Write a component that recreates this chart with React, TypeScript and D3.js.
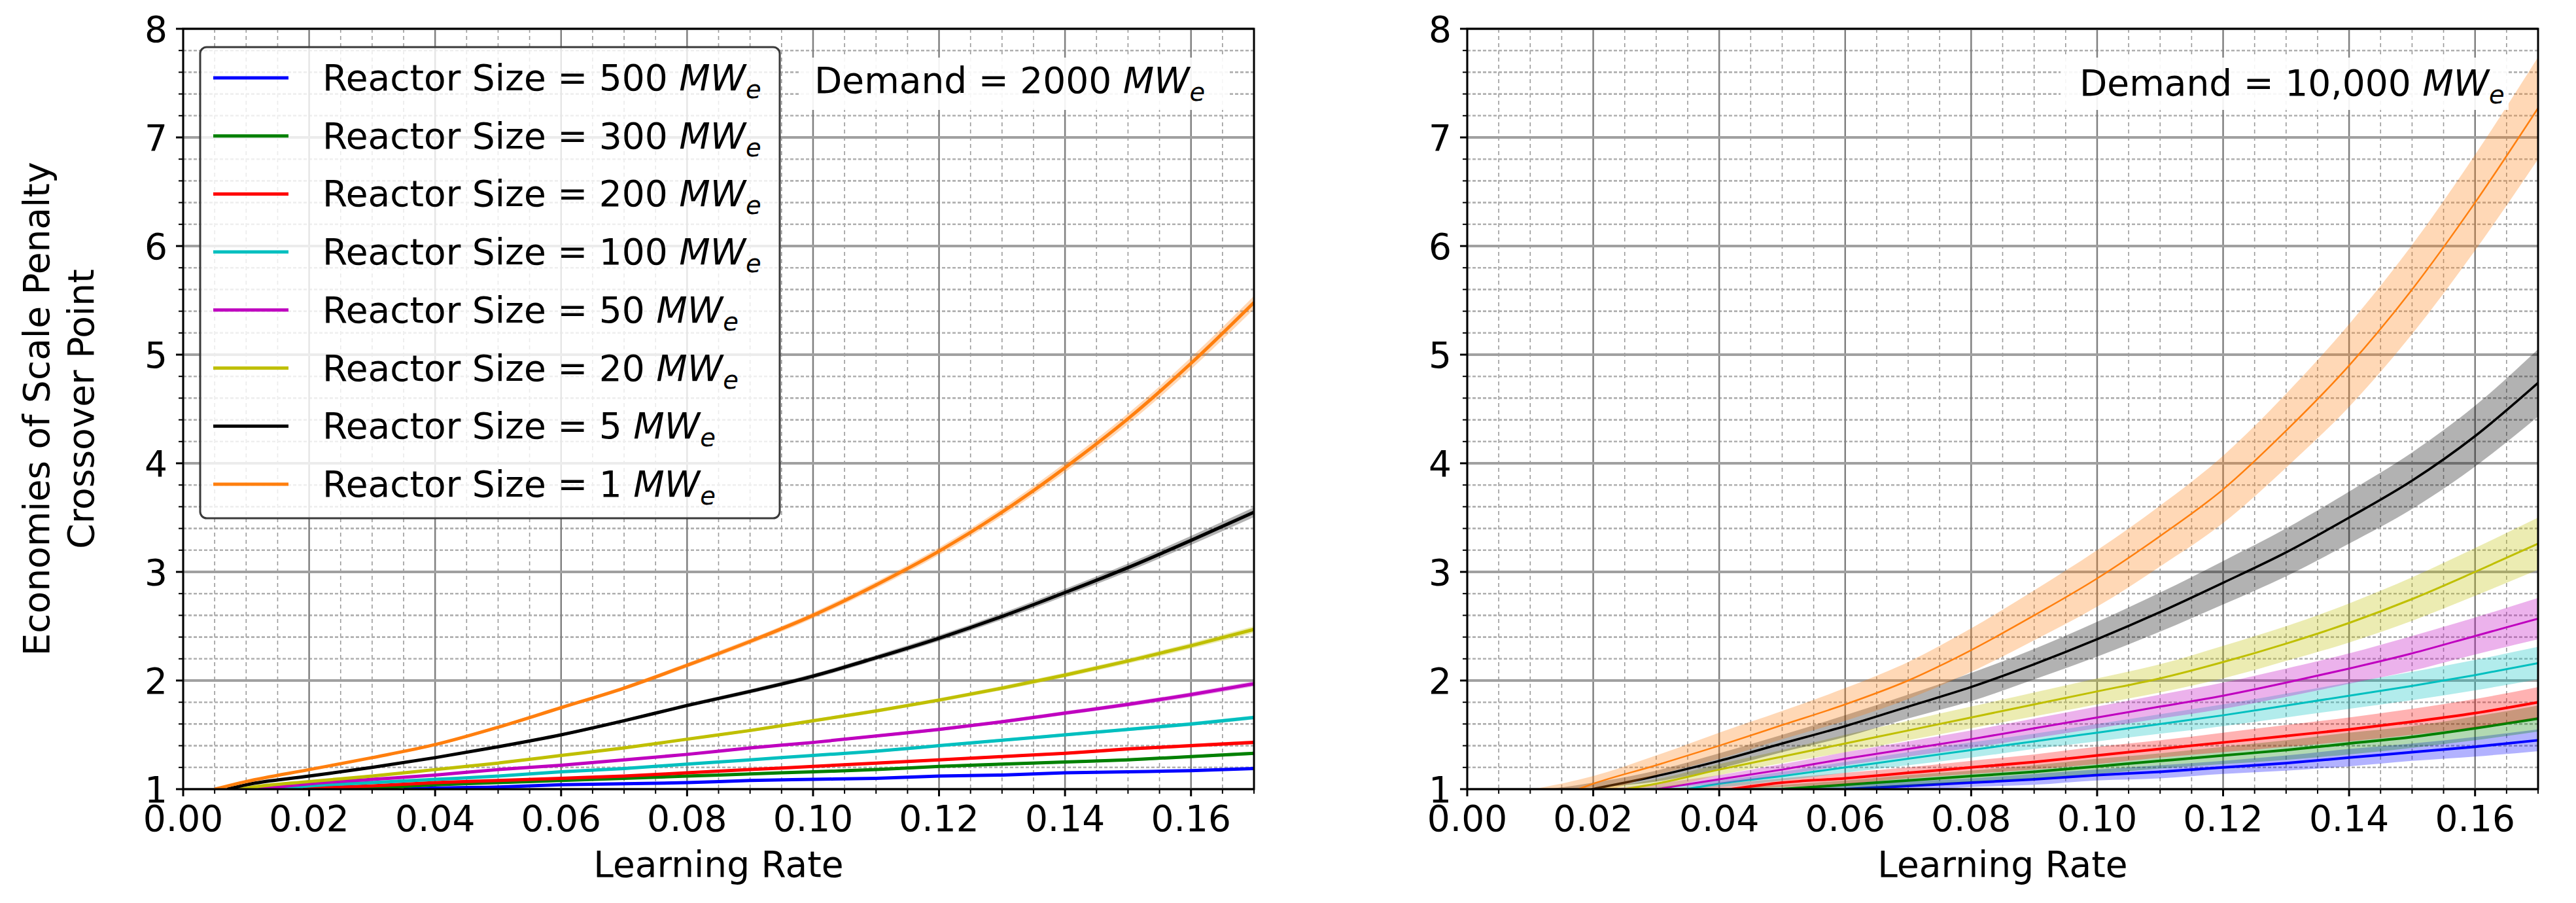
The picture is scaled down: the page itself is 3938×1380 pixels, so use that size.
import * as d3 from "d3";

// learning-rate grid shared by every series (0.01 ... 0.17)
const LR = [0.01, 0.02, 0.03, 0.04, 0.05, 0.06, 0.07, 0.08, 0.09, 0.1, 0.11, 0.12, 0.13, 0.14, 0.15, 0.16, 0.17];

const REACTOR_SIZES = ["500", "300", "200", "100", "50", "20", "5", "1"];
const COLORS = ["#0000ff", "#008000", "#ff0000", "#00bfbf", "#bf00bf", "#bfbf00", "#000000", "#ff7f0e"];

// ---- Demand = 2000 MWe (left) ----
const startL = [0.035, 0.025, 0.019, 0.015, 0.012, 0.009, 0.007, 0.005];
const blueL = [null, null, null, 1.01, 1.02, 1.04, 1.05, 1.06, 1.08, 1.09, 1.1, 1.12, 1.13, 1.15, 1.16, 1.17, 1.19];
const greenL = [null, null, 1.01, 1.04, 1.06, 1.08, 1.1, 1.12, 1.14, 1.16, 1.18, 1.21, 1.23, 1.25, 1.27, 1.3, 1.33];
const redL = [null, 1.005, 1.03, 1.06, 1.08, 1.1, 1.12, 1.15, 1.18, 1.21, 1.24, 1.27, 1.3, 1.33, 1.37, 1.4, 1.43];
const cyanL = [null, 1.03, 1.06, 1.09, 1.12, 1.16, 1.19, 1.23, 1.27, 1.31, 1.35, 1.4, 1.45, 1.5, 1.55, 1.6, 1.66];
const magentaL = [null, 1.05, 1.09, 1.13, 1.18, 1.22, 1.27, 1.32, 1.38, 1.43, 1.49, 1.55, 1.62, 1.7, 1.78, 1.87, 1.97];
const yellowL = [1.01, 1.07, 1.12, 1.18, 1.24, 1.31, 1.38, 1.46, 1.54, 1.63, 1.72, 1.82, 1.93, 2.05, 2.18, 2.32, 2.47];
const blackL = [1.04, 1.12, 1.2, 1.29, 1.39, 1.5, 1.63, 1.77, 1.9, 2.04, 2.21, 2.39, 2.59, 2.81, 3.04, 3.29, 3.55];
const orangeL = [1.07, 1.18, 1.29, 1.41, 1.57, 1.75, 1.93, 2.14, 2.36, 2.6, 2.88, 3.19, 3.55, 3.96, 4.41, 4.92, 5.48];

// half-width of the shaded band
const blueSpreadL = [0, 0, 0, 0.003, 0.004, 0.004, 0.005, 0.005, 0.006, 0.006, 0.007, 0.008, 0.008, 0.009, 0.01, 0.01, 0.011];
const greenSpreadL = [0, 0, 0.003, 0.004, 0.005, 0.006, 0.007, 0.007, 0.008, 0.009, 0.01, 0.011, 0.012, 0.012, 0.013, 0.014, 0.015];
const redSpreadL = [0, 0.003, 0.004, 0.005, 0.006, 0.007, 0.008, 0.008, 0.009, 0.01, 0.011, 0.012, 0.013, 0.014, 0.015, 0.016, 0.017];
const cyanSpreadL = [0, 0.003, 0.004, 0.005, 0.006, 0.007, 0.008, 0.009, 0.01, 0.011, 0.012, 0.013, 0.014, 0.015, 0.016, 0.017, 0.018];
const magentaSpreadL = [0, 0.004, 0.005, 0.006, 0.007, 0.008, 0.009, 0.01, 0.011, 0.012, 0.013, 0.015, 0.016, 0.018, 0.02, 0.022, 0.024];
const yellowSpreadL = [0.003, 0.005, 0.006, 0.007, 0.008, 0.009, 0.01, 0.012, 0.013, 0.015, 0.016, 0.018, 0.02, 0.022, 0.024, 0.027, 0.03];
const blackSpreadL = [0.004, 0.006, 0.008, 0.01, 0.011, 0.013, 0.015, 0.017, 0.019, 0.021, 0.024, 0.027, 0.03, 0.033, 0.037, 0.041, 0.045];
const orangeSpreadL = [0.005, 0.008, 0.01, 0.012, 0.014, 0.016, 0.018, 0.021, 0.024, 0.027, 0.03, 0.034, 0.038, 0.043, 0.048, 0.054, 0.06];

// ---- Demand = 10,000 MWe (right) ----
const startR = [0.06, 0.05, 0.042, 0.0347, 0.03, 0.025, 0.0198, 0.0176];
const bandStartR = [0.046, 0.038, 0.031, 0.026, 0.022, 0.018, 0.013, 0.0105];
const blueR = [null, null, null, null, null, null, 1.03, 1.06, 1.09, 1.13, 1.16, 1.2, 1.24, 1.29, 1.34, 1.39, 1.45];
const greenR = [null, null, null, null, null, 1.04, 1.08, 1.12, 1.16, 1.21, 1.26, 1.31, 1.36, 1.42, 1.48, 1.56, 1.65];
const redR = [null, null, null, null, 1.06, 1.1, 1.15, 1.2, 1.25, 1.31, 1.37, 1.43, 1.49, 1.55, 1.62, 1.7, 1.8];
const cyanR = [null, null, null, 1.05, 1.12, 1.2, 1.28, 1.36, 1.44, 1.52, 1.6, 1.68, 1.77, 1.86, 1.95, 2.05, 2.16];
const magentaR = [null, null, null, 1.09, 1.18, 1.28, 1.37, 1.46, 1.56, 1.66, 1.76, 1.86, 1.98, 2.11, 2.25, 2.41, 2.57];
const yellowR = [null, null, 1.05, 1.18, 1.3, 1.42, 1.54, 1.66, 1.78, 1.9, 2.02, 2.17, 2.34, 2.53, 2.75, 3.0, 3.26];
const blackR = [null, null, 1.12, 1.26, 1.42, 1.58, 1.76, 1.94, 2.15, 2.38, 2.63, 2.9, 3.18, 3.5, 3.84, 4.25, 4.74];
const orangeR = [null, 1.05, 1.22, 1.4, 1.59, 1.78, 2.0, 2.28, 2.6, 2.94, 3.33, 3.76, 4.3, 4.9, 5.6, 6.4, 7.27];

const blueSpreadR = [0, 0, 0, 0, 0, 0, 0.04, 0.04, 0.05, 0.05, 0.06, 0.06, 0.07, 0.08, 0.08, 0.09, 0.1];
const greenSpreadR = [0, 0, 0, 0, 0, 0.04, 0.05, 0.05, 0.06, 0.07, 0.07, 0.08, 0.09, 0.1, 0.1, 0.11, 0.12];
const redSpreadR = [0, 0, 0, 0, 0.04, 0.05, 0.05, 0.06, 0.07, 0.08, 0.08, 0.09, 0.1, 0.11, 0.12, 0.13, 0.14];
const cyanSpreadR = [0, 0, 0, 0.03, 0.04, 0.05, 0.06, 0.07, 0.07, 0.08, 0.09, 0.1, 0.11, 0.12, 0.13, 0.14, 0.15];
const magentaSpreadR = [0, 0, 0, 0.04, 0.05, 0.06, 0.07, 0.08, 0.09, 0.1, 0.11, 0.12, 0.13, 0.14, 0.16, 0.17, 0.19];
const yellowSpreadR = [0, 0, 0.04, 0.05, 0.06, 0.08, 0.09, 0.1, 0.11, 0.12, 0.13, 0.15, 0.16, 0.18, 0.2, 0.22, 0.24];
const blackSpreadR = [0, 0.03, 0.05, 0.07, 0.08, 0.1, 0.11, 0.13, 0.14, 0.16, 0.18, 0.2, 0.22, 0.24, 0.26, 0.28, 0.31];
const orangeSpreadR = [0, 0.07, 0.09, 0.12, 0.13, 0.15, 0.17, 0.2, 0.23, 0.26, 0.28, 0.31, 0.34, 0.38, 0.41, 0.44, 0.47];

const X_MAJOR = [0, 0.02, 0.04, 0.06, 0.08, 0.1, 0.12, 0.14, 0.16];
const Y_MAJOR = [1, 2, 3, 4, 5, 6, 7, 8];

const W = 3938;
const H = 1380;
const TOP = 44;
const BOTTOM = 1206;
const FONT = "DejaVu Sans";
const FS = 55;

function MWe({ base }) {
  return (
    <>
      <tspan fontStyle="italic">MW</tspan>
      <tspan fontStyle="italic" fontSize={base * 0.7} dy={12}>e</tspan>
    </>
  );
}

function Panel({ id, x0, x1, means, spreads, starts, bandStarts, lineWidth, demand, demandX, demandY, boxX0, boxX1, legend, yLabel }) {
  const x = d3.scaleLinear([0, 0.17], [x0, x1]);
  const y = d3.scaleLinear([1, 8], [BOTTOM, TOP]);

  const line = d3.line().x(d => x(d[0])).y(d => y(d[1])).curve(d3.curveMonotoneX);
  const area = d3.area().x(d => x(d[0])).y0(d => y(d[1])).y1(d => y(d[2])).curve(d3.curveMonotoneX);

  const minorX = d3.range(0, 35).filter(i => i % 4 !== 0).map(i => i * 0.005);
  const minorY = d3.range(0, 36).filter(i => i % 5 !== 0).map(i => 1 + i * 0.2);

  return (
    <g>
      <defs>
        <clipPath id={id}>
          <rect x={x0} y={TOP} width={x1 - x0} height={BOTTOM - TOP} />
        </clipPath>
      </defs>

      {/* grid */}
      <g>
        {minorX.map(v => (
          <line key={"mx" + v} x1={x(v)} x2={x(v)} y1={TOP} y2={BOTTOM} stroke="#9a9a9a" strokeWidth={1.6} strokeDasharray="6,5" />
        ))}
        {minorY.map(v => (
          <line key={"my" + v} x1={x0} x2={x1} y1={y(v)} y2={y(v)} stroke="#b0b0b0" strokeWidth={2.6} strokeDasharray="5,3" />
        ))}
        {X_MAJOR.map(v => (
          <line key={"Mx" + v} x1={x(v)} x2={x(v)} y1={TOP} y2={BOTTOM} stroke="#808080" strokeWidth={2.5} />
        ))}
        {Y_MAJOR.map(v => (
          <line key={"My" + v} x1={x0} x2={x1} y1={y(v)} y2={y(v)} stroke="#a0a0a0" strokeWidth={4} />
        ))}
      </g>

      {/* bands and mean curves */}
      <g clipPath={`url(#${id})`}>
        {means.map((m, k) => {
          const pts = LR.map((lr, i) => [lr, m[i]]).filter(d => d[1] != null && d[0] > starts[k]);
          const band = [[bandStarts[k], 1, 1], ...LR.map((lr, i) => [lr, m[i] == null ? null : m[i] - spreads[k][i], m[i] == null ? null : m[i] + spreads[k][i]]).filter(d => d[1] != null && d[0] > bandStarts[k])];
          return (
            <g key={k}>
              <path d={area(band)} fill={COLORS[k]} fillOpacity={0.3} stroke="none" />
              <path d={line([[starts[k], 1], ...pts])} fill="none" stroke={COLORS[k]} strokeWidth={lineWidth[k]} strokeLinejoin="round" />
            </g>
          );
        })}
      </g>

      {/* demand annotation */}
      <rect x={boxX0} y={88} width={boxX1 - boxX0} height={80} fill="#ffffff" fillOpacity={0.9} />
      <text x={demandX} y={demandY} fontFamily={FONT} fontSize={FS} fill="#000">
        {demand} <MWe base={FS} />
      </text>

      {/* legend */}
      {legend && (
        <g>
          <rect x={306} y={72} width={886} height={720} rx={10} fill="#ffffff" fillOpacity={0.8} stroke="#3a3a3a" strokeWidth={3} />
          {REACTOR_SIZES.map((s, i) => {
            const cy = 119 + i * 88.7;
            return (
              <g key={s}>
                <line x1={326} x2={441} y1={cy} y2={cy} stroke={COLORS[i]} strokeWidth={5} />
                <text x={493} y={cy + 19} fontFamily={FONT} fontSize={FS} fill="#000">
                  Reactor Size = {s} <MWe base={FS} />
                </text>
              </g>
            );
          })}
        </g>
      )}

      {/* spines */}
      <rect x={x0} y={TOP} width={x1 - x0} height={BOTTOM - TOP} fill="none" stroke="#000" strokeWidth={3} />

      {/* ticks */}
      {X_MAJOR.map(v => (
        <g key={"tx" + v}>
          <line x1={x(v)} x2={x(v)} y1={BOTTOM} y2={BOTTOM + 11} stroke="#000" strokeWidth={3} />
          <text x={x(v)} y={1270} textAnchor="middle" fontFamily={FONT} fontSize={FS} fill="#000">{v.toFixed(2)}</text>
        </g>
      ))}
      {[...minorX, 0.17].map(v => (
        <line key={"tmx" + v} x1={x(v)} x2={x(v)} y1={BOTTOM} y2={BOTTOM + 7} stroke="#000" strokeWidth={2} />
      ))}
      {Y_MAJOR.map(v => (
        <g key={"ty" + v}>
          <line x1={x0 - 11} x2={x0} y1={y(v)} y2={y(v)} stroke="#000" strokeWidth={3} />
          <text x={x0 - 24} y={y(v)} dy="0.36em" textAnchor="end" fontFamily={FONT} fontSize={FS} fill="#000">{v}</text>
        </g>
      ))}
      {minorY.map(v => (
        <line key={"tmy" + v} x1={x0 - 7} x2={x0} y1={y(v)} y2={y(v)} stroke="#000" strokeWidth={2} />
      ))}

      {/* axis labels */}
      <text x={(x0 + x1) / 2} y={1340} textAnchor="middle" fontFamily={FONT} fontSize={FS} fill="#000">Learning Rate</text>
      {yLabel && (
        <>
          <text transform={`translate(75,${(TOP + BOTTOM) / 2}) rotate(-90)`} textAnchor="middle" fontFamily={FONT} fontSize={FS} fill="#000">Economies of Scale Penalty</text>
          <text transform={`translate(143,${(TOP + BOTTOM) / 2}) rotate(-90)`} textAnchor="middle" fontFamily={FONT} fontSize={FS} fill="#000">Crossover Point</text>
        </>
      )}
    </g>
  );
}

export default function App() {
  const meansL = [blueL, greenL, redL, cyanL, magentaL, yellowL, blackL, orangeL];
  const spreadsL = [blueSpreadL, greenSpreadL, redSpreadL, cyanSpreadL, magentaSpreadL, yellowSpreadL, blackSpreadL, orangeSpreadL];
  const meansR = [blueR, greenR, redR, cyanR, magentaR, yellowR, blackR, orangeR];
  const spreadsR = [blueSpreadR, greenSpreadR, redSpreadR, cyanSpreadR, magentaSpreadR, yellowSpreadR, blackSpreadR, orangeSpreadR];

  return (
    <svg width={W} height={H} viewBox={`0 0 ${W} ${H}`} style={{ position: "absolute", left: 0, top: 0, display: "block", background: "#fff" }}>
      <rect width={W} height={H} fill="#fff" />
      <Panel
        id="clipL" x0={280} x1={1917}
        means={meansL} spreads={spreadsL} starts={startL} bandStarts={startL}
        lineWidth={[5, 5, 5, 5, 5, 5, 5, 5]}
        demand="Demand = 2000" demandX={1245} demandY={142} boxX0={1222} boxX1={1878}
        legend yLabel
      />
      <Panel
        id="clipR" x0={2243} x1={3880}
        means={meansR} spreads={spreadsR} starts={startR} bandStarts={bandStartR}
        lineWidth={[4, 4, 4, 3, 3, 3, 3.5, 2.5]}
        demand="Demand = 10,000" demandX={3179} demandY={146} boxX0={3150} boxX1={3835}
        legend={false} yLabel={false}
      />
    </svg>
  );
}
